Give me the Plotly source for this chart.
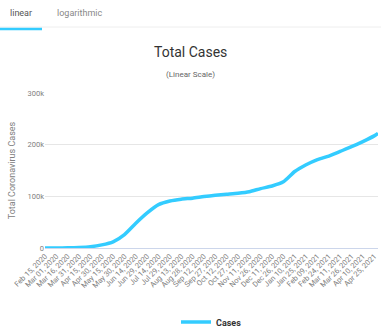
import plotly.graph_objects as go

dates = ["2020-02-15", "2020-03-01", "2020-03-16", "2020-03-31", "2020-04-15", "2020-04-30",
         "2020-05-15", "2020-05-30", "2020-06-14", "2020-06-29", "2020-07-14", "2020-07-29",
         "2020-08-13", "2020-08-28", "2020-09-12", "2020-09-27", "2020-10-12", "2020-10-27",
         "2020-11-11", "2020-11-26", "2020-12-11", "2020-12-26", "2021-01-10", "2021-01-25",
         "2021-02-09", "2021-02-24", "2021-03-11", "2021-03-26", "2021-04-10", "2021-04-25",
         "2021-04-30"]
cases = [0, 50, 300, 1000, 2500, 6000,
         12000, 26000, 48000, 68000, 84000, 91000,
         94500, 96500, 99500, 102000, 104000, 106000,
         109000, 115000, 120000, 128000, 148000, 161000,
         171000, 178000, 187000, 196000, 206000, 217000,
         222000]
y_ticks = [0, 100000, 200000, 300000]
y_tick_labels = ["0", "100k", "200k", "300k"]

W, H = 381, 331
L, R, T, B = 45, 378, 93, 248

def px(x):
    return (x - L) / (R - L)

def py(y):
    return (B - y) / (B - T)

font = "Roboto"
fig = go.Figure()
fig.add_trace(go.Scatter(
    x=dates, y=cases, mode="lines", name="<b>Cases</b>",
    line=dict(color="#33ccff", width=3.5, shape="spline", smoothing=0.6),
))

def ann(text, x, y, size, color):
    return dict(text=text, xref="paper", yref="paper", x=px(x), y=py(y),
                xanchor="center", yanchor="middle", showarrow=False,
                font=dict(size=size, color=color, family=font))

fig.update_layout(
    width=W, height=H,
    margin=dict(l=L, r=W - R, t=T, b=H - B, autoexpand=False),
    paper_bgcolor="white", plot_bgcolor="white",
    font=dict(family=font, color="#666666"),
    showlegend=True,
    legend=dict(orientation="h", x=0.5, xanchor="center", y=py(322), yanchor="middle",
                font=dict(size=9, color="#333333", family=font), itemwidth=30),
    xaxis=dict(
        type="date", range=["2020-02-15", "2021-04-30"], automargin=False,
        tick0="2020-02-15", dtick=15 * 86400000, tickformat="%b %d, %Y",
        tickangle=-45, tickfont=dict(size=7.5, color="#808080"),
        showgrid=False, showline=True, linecolor="#ccd6eb", ticks="",
        zeroline=False,
    ),
    yaxis=dict(
        range=[0, 300000], tickvals=y_ticks, ticktext=y_tick_labels, automargin=False,
        tickfont=dict(size=7.5, color="#808080"),
        gridcolor="#e6e6e6", zeroline=False, showline=False,
        title=dict(text="Total Coronavirus Cases", font=dict(size=9, color="#808080"), standoff=10),
    ),
    annotations=[
        ann("Total Cases", 190, 52, 14, "#333333"),
        ann("(Linear Scale)", 190, 75, 8, "#666666"),
        ann("linear", 21, 13, 9, "#555555"),
        ann("logarithmic", 79, 13, 9, "#888888"),
    ],
    shapes=[
        dict(type="line", xref="paper", yref="paper", x0=px(0), x1=px(381), y0=py(27), y1=py(27),
             line=dict(color="#eeeeee", width=1)),
        dict(type="line", xref="paper", yref="paper", x0=px(0), x1=px(42), y0=py(29), y1=py(29),
             line=dict(color="#33ccff", width=2.5)),
    ],
)

fig.write_html("out.html", config={"displayModeBar": False},
               post_script="document.body.style.margin='0';document.body.style.padding='0';")
